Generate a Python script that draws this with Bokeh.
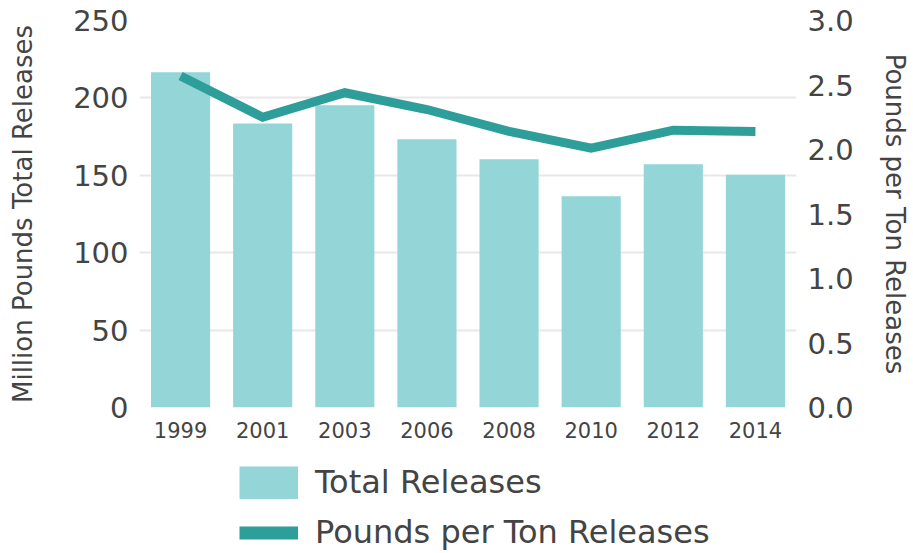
from bokeh.plotting import figure
from bokeh.models import (Range1d, LinearAxis, FixedTicker, NumeralTickFormatter,
                          Legend, LegendItem)
from bokeh.layouts import column
from bokeh.embed import file_html
from bokeh.resources import INLINE

years = ["1999", "2001", "2003", "2006", "2008", "2010", "2012", "2014"]
total_releases = [216.5, 183.5, 195.2, 173.3, 160.4, 136.4, 157.2, 150.3]
pounds_per_ton = [2.57, 2.25, 2.44, 2.31, 2.14, 2.01, 2.15, 2.14]
left_ticks = [0, 50, 100, 150, 200, 250]
right_ticks = [0.0, 0.5, 1.0, 1.5, 2.0, 2.5, 3.0]

BAR = "#94d5d8"
LINE = "#2e9e9a"
TXT = "#444444"
FONT = "DejaVu Sans"

p = figure(frame_width=657, frame_height=387, x_range=years, y_range=Range1d(0, 250),
           output_backend="svg", toolbar_location=None,
           min_border_left=139, min_border_right=10,
           min_border_top=20, min_border_bottom=40)
p.extra_y_ranges = {"right": Range1d(0, 3)}
p.outline_line_color = None
p.background_fill_color = "white"

bars = p.vbar(x=years, top=total_releases, width=0.72, fill_color=BAR, line_color=None)
ln = p.line(x=years, y=pounds_per_ton, y_range_name="right", line_width=9,
            line_color=LINE, line_join="miter")

p.xgrid.grid_line_color = None
p.ygrid.grid_line_color = "#e8e8e8"
p.ygrid.grid_line_width = 2
p.yaxis.ticker = FixedTicker(ticks=left_ticks)

for ax in [p.xaxis[0], p.yaxis[0]]:
    ax.axis_line_color = None
    ax.major_tick_line_color = None
    ax.minor_tick_line_color = None
    ax.major_label_text_color = TXT
    ax.major_label_text_font = FONT
    ax.axis_label_text_color = TXT
    ax.axis_label_text_font = FONT
    ax.axis_label_text_font_style = "normal"

p.xaxis.major_label_text_font_size = "21px"
p.xaxis.major_label_standoff = 8
p.yaxis.major_label_text_font_size = "29px"
p.yaxis.major_label_standoff = 5
p.yaxis.axis_label = "Million Pounds Total Releases"
p.yaxis.axis_label_text_font_size = "26px"
p.yaxis.axis_label_standoff = 32

rax = LinearAxis(y_range_name="right", ticker=FixedTicker(ticks=right_ticks),
                 formatter=NumeralTickFormatter(format="0.0"),
                 axis_label="Pounds per Ton Releases")
rax.axis_line_color = None
rax.major_tick_line_color = None
rax.minor_tick_line_color = None
rax.major_label_text_color = TXT
rax.major_label_text_font = FONT
rax.major_label_text_font_size = "29px"
rax.major_label_standoff = 5
rax.axis_label_text_color = TXT
rax.axis_label_text_font = FONT
rax.axis_label_text_font_size = "26px"
rax.axis_label_text_font_style = "normal"
rax.axis_label_standoff = 23
p.add_layout(rax, "right")

# legend figure below the chart (its frame is aligned with the chart's frame)
lg = figure(width=900, height=105, x_range=Range1d(0, 1), y_range=Range1d(0, 1),
            output_backend="svg", toolbar_location=None,
            min_border=0, min_border_left=0, min_border_right=0,
            min_border_top=0, min_border_bottom=0)
lg.axis.visible = False
lg.grid.visible = False
lg.outline_line_color = None
nan = float("nan")
leg_bar = lg.line(x=[nan, nan], y=[nan, nan], line_width=33, line_color=BAR, line_cap="butt")
leg_line = lg.line(x=[nan, nan], y=[nan, nan], line_width=13, line_color=LINE, line_cap="butt")

legend = Legend(items=[LegendItem(label="Total Releases", renderers=[leg_bar]),
                       LegendItem(label="Pounds per Ton Releases", renderers=[leg_line])],
                location=(100, 1), orientation="vertical")
legend.border_line_color = None
legend.background_fill_alpha = 0
legend.padding = 0
legend.margin = 0
legend.glyph_width = 59
legend.glyph_height = 33
legend.label_height = 33
legend.label_standoff = 17
legend.spacing = 12
legend.label_text_font = FONT
legend.label_text_font_size = "32px"
legend.label_text_color = TXT
lg.add_layout(legend, "center")

layout = column(p, lg, spacing=0)
open("out.html", "w").write(file_html(layout, INLINE))
